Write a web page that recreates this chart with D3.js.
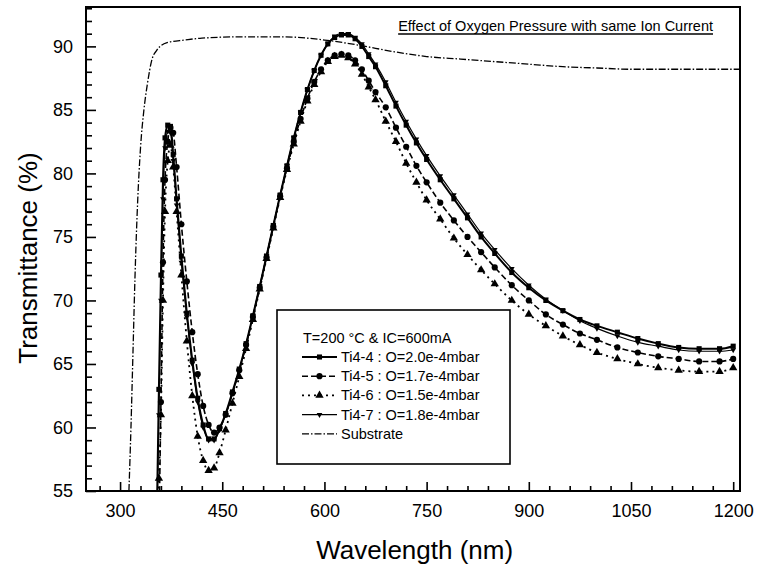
<!DOCTYPE html>
<html>
<head>
<meta charset="utf-8">
<script src="https://cdn.jsdelivr.net/npm/d3@7"></script>
<style>
  body { margin: 0; background: #fff; }
  svg { font-family: "Liberation Sans", Arial, sans-serif; }
</style>
</head>
<body>
<svg id="chart" width="757" height="569"></svg>
<script>
// Sampled wavelengths for the Ti4 films (nm)
const wavelengths = [354, 357, 360, 363, 366, 370, 374, 378, 383, 390, 398, 406, 414, 422, 430, 438, 446, 455,
  465, 475, 485, 495, 505, 515, 525, 535, 545, 555, 565, 575, 585, 595, 605, 615, 625, 635, 645, 655, 665, 675,
  690, 705, 720, 735, 750, 770, 790, 810, 830, 850, 875, 900, 925, 950, 975, 1000, 1030, 1060, 1090, 1120, 1150,
  1180, 1200];

// Transmittance (%) per sample
const ti44 = [53, 63, 72, 79.5, 82.8, 83.8, 83.7, 81.5, 78, 73.5, 69, 65.3, 62.3, 60.2, 59.1, 59.1, 59.9, 61.1,
  62.8, 64.6, 66.6, 68.8, 71.1, 73.5, 75.9, 78.3, 80.6, 82.8, 84.8, 86.6, 88.1, 89.3, 90.2, 90.7, 90.9, 90.9,
  90.6, 90.0, 89.2, 88.4, 86.9, 85.3, 83.8, 82.4, 81.1, 79.5, 78.0, 76.5, 75.0, 73.7, 72.2, 71.0, 70.0, 69.2,
  68.5, 68.0, 67.5, 67.0, 66.6, 66.3, 66.2, 66.2, 66.4];
const ti45 = [45, 52, 62, 73, 79.5, 82.5, 83.6, 83.2, 80.5, 76, 71.5, 67.5, 64.2, 61.7, 60.2, 59.6, 60.0, 61.0,
  62.7, 64.5, 66.5, 68.7, 71.0, 73.4, 75.8, 78.2, 80.4, 82.5, 84.3, 85.9, 87.2, 88.2, 88.9, 89.3, 89.4, 89.3,
  88.9, 88.2, 87.3, 86.4, 85.2, 83.6, 82.1, 80.6, 79.3, 77.7, 76.3, 75.0, 73.8, 72.6, 71.2, 70.0, 68.9, 68.1,
  67.4, 66.9, 66.3, 65.9, 65.6, 65.4, 65.2, 65.2, 65.4];
const ti46 = [50, 56, 61, 70, 77, 81, 82.2, 80.5, 77, 72, 66.8, 62.5, 59.3, 57.4, 56.6, 56.8, 58.0, 59.8,
  61.9, 64.0, 66.2, 68.5, 70.9, 73.3, 75.7, 78.1, 80.3, 82.3, 84.1, 85.7, 87.0, 88.0, 88.8, 89.2, 89.3, 89.1,
  88.6, 87.8, 86.8, 85.8, 84.1, 82.5, 80.8, 79.3, 77.9, 76.4, 74.9, 73.6, 72.4, 71.3, 70.0, 68.9, 68.0, 67.2,
  66.5, 65.9, 65.4, 65.0, 64.7, 64.5, 64.4, 64.4, 64.7];
const ti47 = [52, 61, 70, 78, 82, 83.3, 83.2, 81, 77.5, 73, 68.7, 65, 62, 60, 59.0, 59.0, 59.8, 61.0,
  62.7, 64.5, 66.5, 68.8, 71.1, 73.5, 75.9, 78.3, 80.6, 82.8, 84.8, 86.6, 88.1, 89.3, 90.2, 90.8, 91.0, 91.0,
  90.7, 90.2, 89.4, 88.6, 87.2, 85.6, 84.1, 82.7, 81.4, 79.8, 78.3, 76.8, 75.3, 74.0, 72.5, 71.2, 70.1, 69.2,
  68.4, 67.8, 67.2, 66.7, 66.4, 66.1, 66.0, 66.0, 66.1];

// Bare substrate
const substrateWl = [313, 316, 319, 322, 326, 330, 335, 340, 347, 354, 369, 395, 420, 480, 540, 600, 650, 700,
  750, 800, 850, 900, 950, 1000, 1050, 1100, 1150, 1200, 1210];
const substrateT = [55, 60, 66, 72, 78, 82, 85, 87, 89, 89.7, 90.3, 90.5, 90.65, 90.75, 90.75, 90.5, 90.1,
  89.6, 89.2, 89.0, 88.8, 88.6, 88.4, 88.3, 88.2, 88.2, 88.2, 88.2, 88.2];

const xTicks = [300, 450, 600, 750, 900, 1050, 1200];
const yTicks = [55, 60, 65, 70, 75, 80, 85, 90];
const seriesNames = ['Ti4-4 : O=2.0e-4mbar', 'Ti4-5 : O=1.7e-4mbar', 'Ti4-6 : O=1.5e-4mbar', 'Ti4-7 : O=1.8e-4mbar'];
const substrateName = 'Substrate';
const legendTitle = 'T=200 °C & IC=600mA';
const chartTitle = 'Effect of Oxygen Pressure with same Ion Current';

const series = [
  { name: seriesNames[0], values: ti44, dash: null, width: 2, symbol: d3.symbolSquare, size: 26, rotate: 0 },
  { name: seriesNames[1], values: ti45, dash: '6,3', width: 1.6, symbol: d3.symbolCircle, size: 30, rotate: 0 },
  { name: seriesNames[2], values: ti46, dash: '2,4', width: 1.8, symbol: d3.symbolTriangle, size: 30, rotate: 0 },
  { name: seriesNames[3], values: ti47, dash: null, width: 1.2, symbol: d3.symbolTriangle, size: 14, rotate: 180 }
];

const svg = d3.select('#chart');
const plotL = 86, plotR = 740, plotT = 7, plotB = 491;

const x = d3.scaleLinear().domain([250, 1210]).range([plotL, plotR]);
const y = d3.scaleLinear().domain([55, 93.1]).range([plotB, plotT]);

svg.append('defs').append('clipPath').attr('id', 'plot')
  .append('rect').attr('x', plotL).attr('y', plotT).attr('width', plotR - plotL).attr('height', plotB - plotT);

// Axes (ticks point inward)
const xMinor = d3.range(270, 1210, 30).filter(v => !xTicks.includes(v));
const yMinor = d3.range(56, 94).filter(v => v % 5 !== 0);

svg.append('g').attr('transform', `translate(0,${plotB})`)
  .call(d3.axisBottom(x).tickValues(xTicks).tickSize(-9).tickPadding(13).tickFormat(d3.format('d')));
svg.append('g').attr('transform', `translate(0,${plotB})`)
  .call(d3.axisBottom(x).tickValues(xMinor).tickSize(-5).tickFormat(''));
svg.append('g').attr('transform', `translate(${plotL},0)`)
  .call(d3.axisLeft(y).tickValues(yTicks).tickSize(-10).tickPadding(13));
svg.append('g').attr('transform', `translate(${plotL},0)`)
  .call(d3.axisLeft(y).tickValues(yMinor).tickSize(-6).tickFormat(''));

svg.selectAll('.domain').remove();
svg.selectAll('.tick line').attr('stroke', '#000').attr('stroke-width', 1.6);
svg.selectAll('.tick text').attr('font-size', 18).attr('font-family', '"Liberation Sans", Arial, sans-serif').attr('fill', '#000');

svg.append('rect').attr('x', plotL).attr('y', plotT).attr('width', plotR - plotL).attr('height', plotB - plotT)
  .attr('fill', 'none').attr('stroke', '#000').attr('stroke-width', 2);

// Axis titles
svg.append('text').attr('x', (x(300) + x(1200)) / 2 - 12).attr('y', 559)
  .attr('text-anchor', 'middle').attr('font-size', 26).text('Wavelength (nm)');
svg.append('text').attr('transform', 'translate(37,258) rotate(-90)')
  .attr('text-anchor', 'middle').attr('font-size', 26).text('Transmittance (%)');

// Chart title, underlined
const title = svg.append('text').attr('x', 713).attr('y', 31).attr('text-anchor', 'end')
  .attr('font-size', 14.5).text(chartTitle);
const tb = title.node().getBBox();
svg.append('line').attr('x1', tb.x).attr('x2', tb.x + tb.width).attr('y1', 34).attr('y2', 34)
  .attr('stroke', '#000').attr('stroke-width', 1.3);

// Curves
const plot = svg.append('g').attr('clip-path', 'url(#plot)');
const line = d3.line().x(d => x(d[0])).y(d => y(d[1])).curve(d3.curveMonotoneX);

plot.append('path')
  .attr('d', line(substrateWl.map((w, i) => [w, substrateT[i]])))
  .attr('fill', 'none').attr('stroke', '#000').attr('stroke-width', 1.3).attr('stroke-dasharray', '7,2,1.5,2');

series.forEach(s => {
  const pts = wavelengths.map((w, i) => [w, s.values[i]]);
  plot.append('path').attr('d', line(pts))
    .attr('fill', 'none').attr('stroke', '#000').attr('stroke-width', s.width)
    .attr('stroke-dasharray', s.dash);
  plot.selectAll(null).data(pts.filter(p => p[1] >= 55)).enter().append('path')
    .attr('d', d3.symbol().type(s.symbol).size(s.size))
    .attr('transform', d => `translate(${x(d[0])},${y(d[1])}) rotate(${s.rotate})`)
    .attr('fill', '#000');
});

// Legend
const lg = svg.append('g');
lg.append('rect').attr('x', 277).attr('y', 310).attr('width', 233).attr('height', 154)
  .attr('fill', '#fff').attr('stroke', '#000').attr('stroke-width', 1.6);
lg.append('text').attr('x', 303).attr('y', 338).attr('dy', '0.35em').attr('font-size', 14.5).text(legendTitle);
series.forEach((s, i) => {
  const ry = 357 + i * 19.2;
  lg.append('line').attr('x1', 302).attr('x2', 337).attr('y1', ry).attr('y2', ry)
    .attr('stroke', '#000').attr('stroke-width', s.width).attr('stroke-dasharray', s.dash);
  lg.append('path').attr('d', d3.symbol().type(s.symbol).size(s.size))
    .attr('transform', `translate(319.5,${ry}) rotate(${s.rotate})`).attr('fill', '#000');
  lg.append('text').attr('x', 341).attr('y', ry).attr('dy', '0.35em').attr('font-size', 14.5).text(s.name);
});
const sy = 357 + 4 * 19.2;
lg.append('line').attr('x1', 302).attr('x2', 337).attr('y1', sy).attr('y2', sy)
  .attr('stroke', '#000').attr('stroke-width', 1.3).attr('stroke-dasharray', '7,2,1.5,2');
lg.append('text').attr('x', 341).attr('y', sy).attr('dy', '0.35em').attr('font-size', 14.5).text(substrateName);
</script>
</body>
</html>
